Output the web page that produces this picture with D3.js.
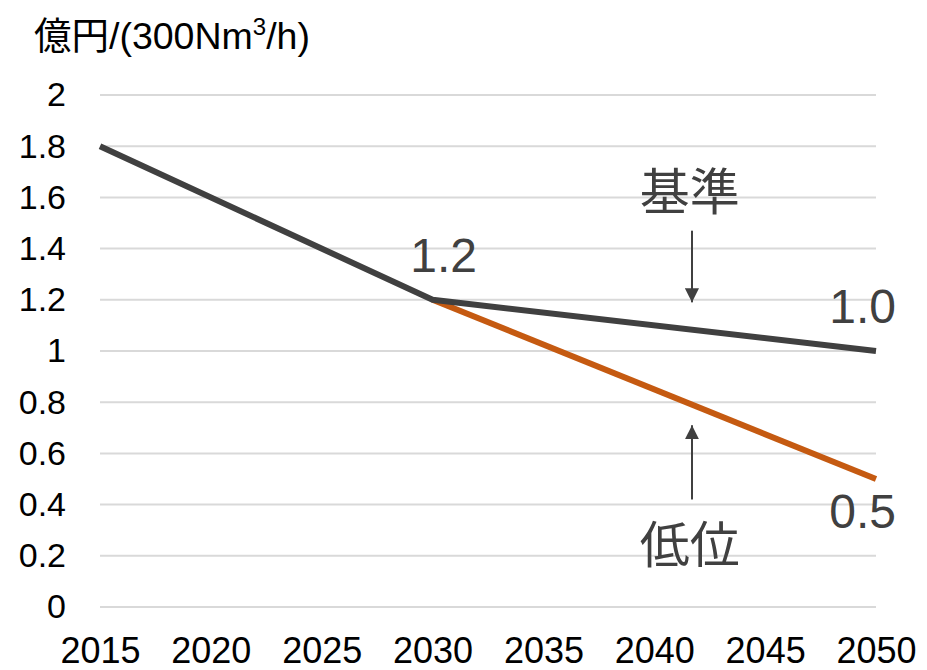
<!DOCTYPE html>
<html>
<head>
<meta charset="utf-8">
<script src="https://cdn.jsdelivr.net/npm/d3@7"></script>
<style>
  body { margin: 0; background: #fff; }
  text { font-family: Arial, "Liberation Sans", "Noto Sans CJK JP", sans-serif; }
</style>
</head>
<body>
<svg id="chart" width="927" height="670"></svg>
<script>
const years = [2015, 2030, 2050];
const baseValues = [1.8, 1.2, 1.0];
const lowYears = [2030, 2050];
const lowValues = [1.2, 0.5];
const xTicks = [2015, 2020, 2025, 2030, 2035, 2040, 2045, 2050];
const yTicks = [0, 0.2, 0.4, 0.6, 0.8, 1, 1.2, 1.4, 1.6, 1.8, 2];

const margin = { top: 95, right: 51, bottom: 63, left: 100 };
const width = 927, height = 670;

const svg = d3.select("#chart");

const x = d3.scaleLinear().domain([2015, 2050]).range([margin.left, width - margin.right]);
const y = d3.scaleLinear().domain([0, 2]).range([height - margin.bottom, margin.top]);

// gridlines
svg.append("g")
    .selectAll("line")
    .data(yTicks)
    .join("line")
    .attr("x1", x(2015))
    .attr("x2", x(2050))
    .attr("y1", d => y(d))
    .attr("y2", d => y(d))
    .attr("stroke", "#d9d9d9")
    .attr("stroke-width", 2);

// y axis labels
const yAxis = svg.append("g")
    .attr("transform", `translate(${margin.left - 34},0)`)
    .call(d3.axisLeft(y).tickValues(yTicks).tickSize(0).tickPadding(0).tickFormat(d3.format("~g")));
yAxis.select(".domain").remove();
yAxis.selectAll("text")
    .attr("font-size", 34)
    .attr("fill", "#000")
    .attr("font-family", "Arial, 'Liberation Sans', sans-serif");

// x axis labels
const xAxis = svg.append("g")
    .attr("transform", `translate(0,${height - margin.bottom})`)
    .call(d3.axisBottom(x).tickValues(xTicks).tickSize(0).tickPadding(30).tickFormat(d3.format("d")));
xAxis.select(".domain").remove();
xAxis.selectAll("text")
    .attr("font-size", 36)
    .attr("fill", "#000")
    .attr("font-family", "Arial, 'Liberation Sans', sans-serif");

// title
const title = svg.append("text")
    .attr("x", 34)
    .attr("y", 49)
    .attr("font-size", 37.5)
    .attr("fill", "#000");
title.append("tspan").text("億円/(300Nm");
title.append("tspan").attr("font-size", 24).attr("dy", -14).text("3");
title.append("tspan").attr("dy", 14).text("/h)");

const line = d3.line().x(d => x(d[0])).y(d => y(d[1]));

svg.append("path")
    .datum(lowYears.map((yr, i) => [yr, lowValues[i]]))
    .attr("d", line)
    .attr("fill", "none")
    .attr("stroke", "#c55a11")
    .attr("stroke-width", 6)
    .attr("stroke-linejoin", "round");

svg.append("path")
    .datum(years.map((yr, i) => [yr, baseValues[i]]))
    .attr("d", line)
    .attr("fill", "none")
    .attr("stroke", "#404040")
    .attr("stroke-width", 6)
    .attr("stroke-linejoin", "round");

// value labels
const labels = [
    { t: "1.2", xv: 2030.5, yv: 1.31 },
    { t: "1.0", xv: 2049.4, yv: 1.11 },
    { t: "0.5", xv: 2049.4, yv: 0.31 }
];
svg.append("g")
    .selectAll("text")
    .data(labels)
    .join("text")
    .attr("x", d => x(d.xv))
    .attr("y", d => y(d.yv))
    .attr("text-anchor", "middle")
    .attr("font-size", 48)
    .attr("fill", "#404040")
    .text(d => d.t);

// annotations
const annots = [
    { t: "基準", xv: 2041.6, yv: 1.55 },
    { t: "低位", xv: 2041.6, yv: 0.17 }
];
svg.append("g")
    .selectAll("text")
    .data(annots)
    .join("text")
    .attr("x", d => x(d.xv))
    .attr("y", d => y(d.yv))
    .attr("text-anchor", "middle")
    .attr("font-size", 50)
    .attr("fill", "#404040")
    .attr("font-family", "'Noto Sans CJK JP', sans-serif")
    .text(d => d.t);

const defs = svg.append("defs");
defs.append("marker")
    .attr("id", "arrow")
    .attr("viewBox", "0 0 10 10")
    .attr("refX", 10)
    .attr("refY", 5)
    .attr("markerWidth", 7)
    .attr("markerHeight", 7)
    .attr("markerUnits", "strokeWidth")
    .attr("orient", "auto")
    .append("path")
    .attr("d", "M0,0 L10,5 L0,10 Z")
    .attr("fill", "#404040");

const arrows = [
    { xv: 2041.7, from: 1.47, to: 1.19 },
    { xv: 2041.7, from: 0.42, to: 0.71 }
];
svg.append("g")
    .selectAll("line")
    .data(arrows)
    .join("line")
    .attr("x1", d => x(d.xv))
    .attr("x2", d => x(d.xv))
    .attr("y1", d => y(d.from))
    .attr("y2", d => y(d.to))
    .attr("stroke", "#404040")
    .attr("stroke-width", 2)
    .attr("marker-end", "url(#arrow)");
</script>
</body>
</html>
